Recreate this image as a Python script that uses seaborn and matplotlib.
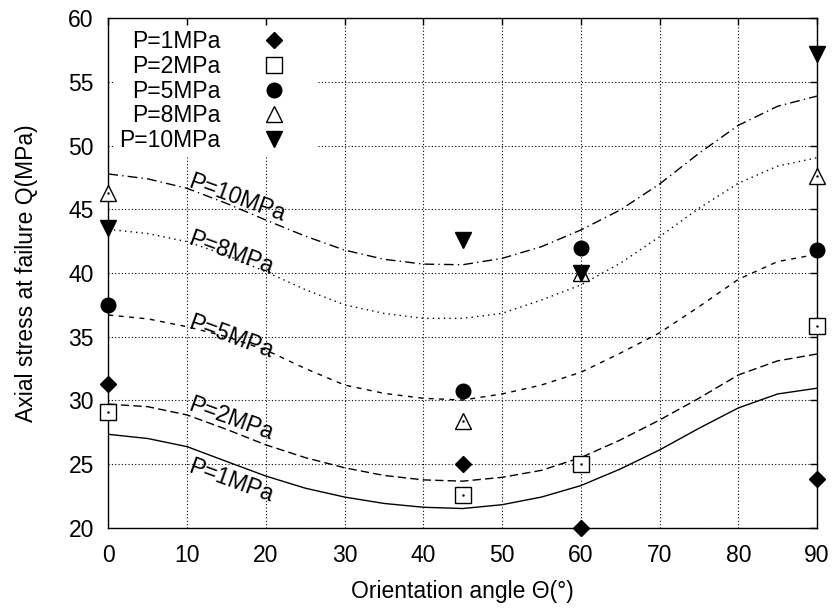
import matplotlib
matplotlib.use('Agg')
import matplotlib.pyplot as plt
import seaborn as sns

# measured points
theta_pts = [0, 45, 60, 90]
q_1mpa = [31.3, 25.0, 20.0, 23.8]
q_2mpa = [29.1, 22.6, 25.0, 35.8]
q_5mpa = [37.5, 30.7, 42.0, 41.8]
q_8mpa = [46.3, 28.4, 40.0, 47.6]
q_10mpa = [43.5, 42.6, 40.0, 57.2]

# fitted curves every 5 degrees
theta_fit = [0, 5, 10, 15, 20, 25, 30, 35, 40, 45, 50, 55, 60, 65, 70, 75, 80, 85, 90]
fit_1mpa = [27.33, 27.0, 26.36, 25.2, 24.05, 23.1, 22.4, 21.9, 21.6, 21.5, 21.8, 22.4, 23.3,
            24.6, 26.1, 27.8, 29.4, 30.5, 30.95]
fit_2mpa = [29.7, 29.5, 28.85, 27.72, 26.5, 25.5, 24.7, 24.1, 23.75, 23.65, 23.95, 24.5, 25.5,
            26.88, 28.45, 30.16, 31.99, 33.1, 33.64]
fit_5mpa = [36.7, 36.4, 35.78, 35.0, 33.95, 32.5, 31.2, 30.55, 30.16, 30.02, 30.5, 31.2, 32.2,
            33.7, 35.3, 37.35, 39.5, 40.9, 41.47]
fit_8mpa = [43.43, 43.1, 42.46, 41.41, 40.1, 38.7, 37.5, 36.83, 36.44, 36.44, 36.83, 37.88, 39.06,
            40.76, 42.85, 45.08, 47.05, 48.4, 49.06]
fit_10mpa = [47.78, 47.4, 46.65, 45.47, 44.16, 42.9, 41.8, 41.08, 40.7, 40.65, 41.15, 42.07, 43.38,
             44.95, 46.99, 49.4, 51.6, 53.1, 53.9]

labels = ['P=1MPa', 'P=2MPa', 'P=5MPa', 'P=8MPa', 'P=10MPa']
label_y = [24.39, 29.24, 35.70, 42.25, 46.78]

sns.set_style('white')
plt.rcParams['font.family'] = ['Liberation Sans', 'DejaVu Sans']
fs = 16.5
plt.rcParams.update({'font.size': fs, 'text.color': 'black', 'axes.labelcolor': 'black',
                     'xtick.color': 'black', 'ytick.color': 'black'})

fig = plt.figure(figsize=(8.37, 6.08), dpi=100)
ax = fig.add_axes([0.1295, 0.1322, 0.8466, 0.8375])

# curves
dash_styles = [None, (6, 3), (3.5, 4), (1, 3), (7, 3, 1, 3)]
fits = [fit_1mpa, fit_2mpa, fit_5mpa, fit_8mpa, fit_10mpa]
for fit, dsh in zip(fits, dash_styles):
    sns.lineplot(x=theta_fit, y=fit, ax=ax, color='black', linewidth=1.0, zorder=3)
    if dsh is not None:
        ax.lines[-1].set_dashes(dsh)

# points
point_sets = [q_1mpa, q_2mpa, q_5mpa, q_8mpa, q_10mpa]
markers = ['D', 's', 'o', '^', 'v']
sizes = [8, 12, 10.5, 12, 11]
filled = [True, False, True, False, True]
handles = []
for q, m, s, f, lab in zip(point_sets, markers, sizes, filled, labels):
    h, = ax.plot(theta_pts, q, linestyle='none', marker=m, markersize=s,
                 markerfacecolor='black' if f else 'white', markeredgecolor='black',
                 markeredgewidth=1.0, clip_on=False, zorder=6, label=lab)
    if not f:
        ax.plot(theta_pts, q, linestyle='none', marker='.', markersize=1.5, color='black',
                clip_on=False, zorder=7)
    handles.append(h)

# labels along the curves
for lab, ly in zip(labels, label_y):
    ax.text(10.0, ly, lab, rotation=-20, rotation_mode='anchor', ha='left', va='baseline',
            fontsize=fs, color='black', zorder=4)

ax.set_xlim(0, 90)
ax.set_ylim(20, 60)
ax.set_xticks(range(0, 91, 10))
ax.set_yticks(range(20, 61, 5))
ax.grid(True, color='black', linestyle=(0, (1, 2)), linewidth=0.8)
ax.tick_params(direction='in', length=5, width=1, top=True, right=True,
               labelsize=fs, colors='black')
ax.tick_params(axis='x', pad=11.5)
ax.tick_params(axis='y', pad=10.5)
for sp in ax.spines.values():
    sp.set_color('black')
    sp.set_linewidth(1.0)

ax.set_xlabel('Orientation angle Θ(°)', fontsize=fs, labelpad=9.5)
ax.set_ylabel('Axial stress at failure Q(MPa)', fontsize=fs, labelpad=21.5)

leg = ax.legend(handles=handles, loc='upper left', bbox_to_anchor=(0.01, 0.985),
                markerfirst=False, frameon=True, fancybox=False, framealpha=1,
                edgecolor='white', handlelength=3.3, handletextpad=0.7,
                labelspacing=0.08, borderpad=0.17, borderaxespad=0, fontsize=fs)
leg.set_zorder(5)

fig.savefig('out.png', dpi=100)
